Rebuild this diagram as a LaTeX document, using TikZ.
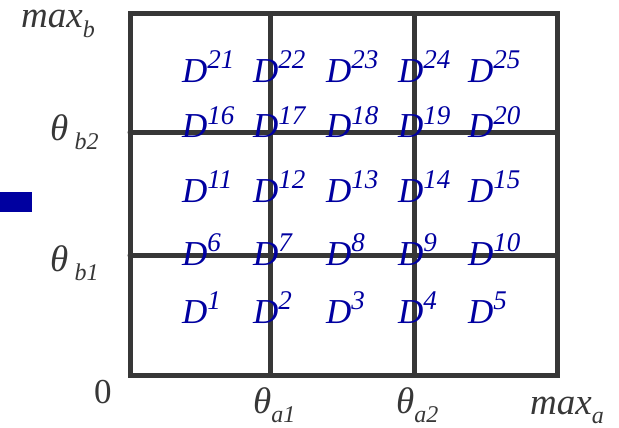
\documentclass[tikz,border=0pt]{standalone}
\usepackage{fontspec}
\setmainfont{Liberation Serif}
\usepackage{tikz}
\usetikzlibrary{positioning}

\definecolor{cellblue}{RGB}{0,0,160}
\definecolor{inkgray}{RGB}{55,55,55}

\newcommand{\lowsub}[1]{\raisebox{-0.25em}{\fontsize{24}{24}\selectfont #1}}
\newcommand{\highsup}[1]{\raisebox{0.4em}{\fontsize{27}{27}\selectfont #1}}

\begin{document}
\begin{tikzpicture}[x=1pt, y=-1pt]

		\tikzstyle{gridline} = [line width=5pt, draw=inkgray, line cap=round]
		\tikzstyle{cell} = [inner sep=0pt, anchor=base west, text=cellblue, font=\fontsize{35}{40}\selectfont\itshape]
		\tikzstyle{axis} = [inner sep=0pt, anchor=base west, text=inkgray, font=\fontsize{37}{40}\selectfont\itshape]

		\useasboundingbox (0,0) rectangle (619,428);

		% Define marker
		\fill[cellblue] (0,192) rectangle (32,212);

		% Draw grid
		\draw[gridline] (130,14) rectangle (557,375);
		\draw[gridline] (270,14) -- (270,375);
		\draw[gridline] (414,14) -- (414,375);
		\draw[gridline] (130,132) -- (557,132);
		\draw[gridline] (130,255) -- (557,255);

		% Define cell labels
		\foreach \r/\yb in {0/323, 1/265, 2/202, 3/138, 4/82} {
			\foreach \c/\xb in {0/182, 1/253, 2/326, 3/398, 4/468} {
				\pgfmathtruncatemacro{\k}{\r*5+\c+1}
				\node[cell] (d\k) at (\xb,\yb) {D\highsup{\k}};
			}
		}

		% Define axis labels
		\node[axis] (maxb) at (21,28) {max\lowsub{b}};
		\node[axis] (thetab2) at (50,140) {θ\,\lowsub{b2}};
		\node[axis] (thetab1) at (50,271) {θ\,\lowsub{b1}};
		\node[axis, font=\fontsize{35}{40}\selectfont] (origin) at (94,403) {0};
		\node[axis] (thetaa1) at (253,413) {θ\lowsub{a1}};
		\node[axis] (thetaa2) at (396,413) {θ\lowsub{a2}};
		\node[axis] (maxa) at (530,414) {max\lowsub{a}};

	\end{tikzpicture}
\end{document}
